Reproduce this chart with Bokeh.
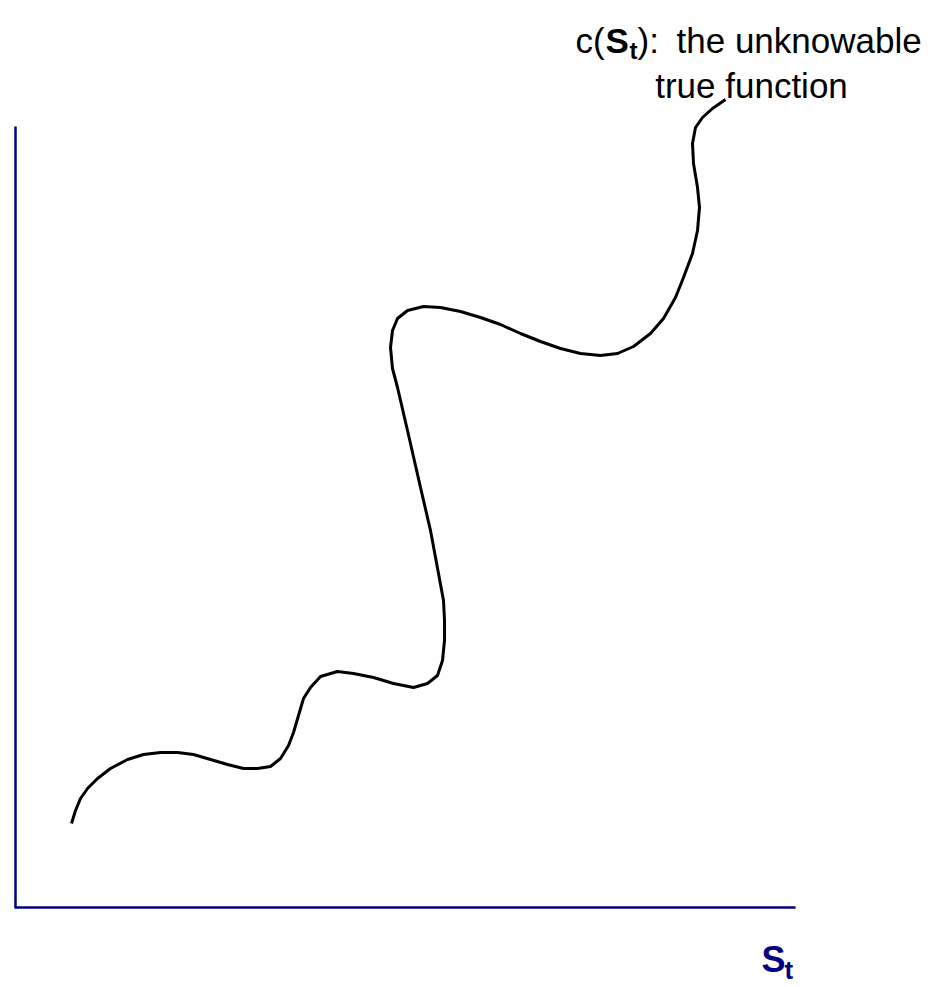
from bokeh.plotting import figure
from bokeh.models import Range1d
from bokeh.embed import file_html
from bokeh.resources import INLINE
from bokeh.core.properties import value

# ---- data (units: offset from the axes origin) ----
s_vals = [56, 60, 65, 72, 82, 95, 112, 128, 145, 162, 178, 195, 212, 228, 242,
          255, 265, 273, 278, 283, 288, 295, 305, 322, 338, 358, 378, 398, 412,
          422, 427, 429, 429, 428, 423, 415, 405, 392, 382, 377, 375, 377, 382,
          392, 408, 425, 445, 465, 485, 505, 525, 545, 565, 585, 602, 618, 635,
          648, 660, 668, 677, 682, 684, 682, 678, 677, 680, 687, 697, 710]
c_vals = [84, 97, 109, 119, 129, 139, 148, 153, 155, 155, 153, 148, 143, 139, 139,
          141, 149, 162, 175, 192, 209, 220, 231, 236, 234, 230, 224, 220, 224,
          232, 247, 267, 287, 307, 334, 377, 420, 477, 520, 539, 560, 577, 589,
          597, 601, 600, 596, 590, 583, 574, 566, 559, 554, 552, 554, 561, 574,
          589, 610, 630, 654, 677, 700, 720, 744, 764, 780, 790, 799, 808]

x_axis_end = 780
y_axis_end = 781

title_parts = ["c(", "S", "t", "):", "the unknowable"]
title_line2 = "true function"
xlabel_parts = ["S", "t"]

NAVY = "#000080"
FONT = value("Liberation Sans")

p = figure(width=950, height=987, output_backend="svg", toolbar_location=None,
           x_range=Range1d(-15, 935), y_range=Range1d(-80, 907),
           min_border=0, outline_line_color=None)
p.axis.visible = False
p.grid.visible = False
p.background_fill_color = "white"
p.border_fill_color = "white"

# axes drawn as lines
p.segment(x0=[0, -1], y0=[0, 0], x1=[0, x_axis_end], y1=[y_axis_end, 0],
          line_color=NAVY, line_width=2.5)

# the curve
p.line(s_vals, c_vals, line_color="black", line_width=3, line_join="round",
       line_cap="butt")

# annotation text
p.text(x=[560], y=[867], text=[title_parts[0]], text_font=FONT,
       text_font_size="35px", text_color="black", text_baseline="alphabetic")
p.text(x=[590], y=[867], text=[title_parts[1]], text_font=FONT,
       text_font_size="35px", text_font_style="bold", text_color="black",
       text_baseline="alphabetic")
p.text(x=[614], y=[857], text=[title_parts[2]], text_font=FONT,
       text_font_size="24px", text_font_style="bold", text_color="black",
       text_baseline="alphabetic")
p.text(x=[622], y=[867], text=[title_parts[3]], text_font=FONT,
       text_font_size="35px", text_color="black", text_baseline="alphabetic")
p.text(x=[661], y=[867], text=[title_parts[4]], text_font=FONT,
       text_font_size="35px", text_color="black", text_baseline="alphabetic")
p.text(x=[736], y=[822], text=[title_line2], text_font=FONT,
       text_font_size="35px", text_color="black", text_align="center",
       text_baseline="alphabetic")

# x-axis label S_t
p.text(x=[746], y=[-52], text=[xlabel_parts[0]], text_font=FONT,
       text_font_size="36px", text_font_style="bold", text_color=NAVY,
       text_baseline="alphabetic")
p.text(x=[769], y=[-62], text=[xlabel_parts[1]], text_font=FONT,
       text_font_size="26px", text_font_style="bold", text_color=NAVY,
       text_baseline="alphabetic")

open("out.html", "w").write(file_html(p, INLINE))
